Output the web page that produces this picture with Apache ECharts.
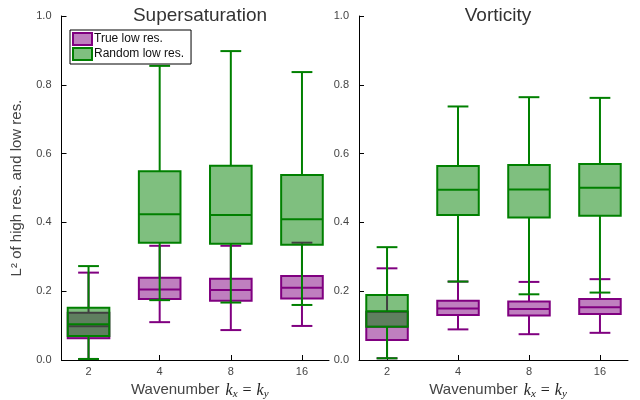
<!DOCTYPE html>
<html>
<head>
<meta charset="utf-8">
<script src="https://cdn.jsdelivr.net/npm/echarts@6/dist/echarts.min.js"></script>
<style>html,body{margin:0;padding:0;background:#fff}#c{width:640px;height:400px}</style>
</head>
<body>
<div id="c"></div>
<script>
// tick labels / categories
var categories = ['2', '4', '8', '16'];
var yTicks = [0, 0.2, 0.4, 0.6, 0.8, 1.0];
// each entry: [min, Q1, median, Q3, max]
var superTrue = [
  [0.003, 0.063, 0.098, 0.1375, 0.254],
  [0.110, 0.177, 0.205, 0.239, 0.332],
  [0.087, 0.172, 0.2035, 0.236, 0.332],
  [0.099, 0.179, 0.210, 0.244, 0.341]
];
var superRandom = [
  [0.003, 0.070, 0.104, 0.152, 0.273],
  [0.174, 0.341, 0.424, 0.549, 0.855],
  [0.167, 0.338, 0.4215, 0.565, 0.898],
  [0.160, 0.335, 0.409, 0.538, 0.837]
];
var vortTrue = [
  [0.005, 0.058, 0.097, 0.140, 0.2665],
  [0.089, 0.131, 0.150, 0.172, 0.228],
  [0.075, 0.129, 0.148, 0.170, 0.227],
  [0.079, 0.134, 0.153, 0.177, 0.235]
];
var vortRandom = [
  [0.005, 0.097, 0.142, 0.189, 0.328],
  [0.228, 0.4215, 0.495, 0.564, 0.737],
  [0.191, 0.414, 0.496, 0.567, 0.764],
  [0.196, 0.419, 0.501, 0.570, 0.762]
];

var PURPLE = '#800080', PURPLE_FILL = 'rgba(128,0,128,0.5)';
var GREEN = '#008000', GREEN_FILL = 'rgba(0,128,0,0.5)';
var FONT = 'Liberation Sans';

function toData(arr) {
  return arr.map(function (d, i) { return [i].concat(d); });
}

function makeRender(stroke, fill) {
  return function (params, api) {
    var x = api.value(0);
    var pMin = api.coord([x, api.value(1)]);
    var pQ1 = api.coord([x, api.value(2)]);
    var pMed = api.coord([x, api.value(3)]);
    var pQ3 = api.coord([x, api.value(4)]);
    var pMax = api.coord([x, api.value(5)]);
    var w = api.size([0.585, 0])[0];
    var cx = pMed[0];
    var hw = w / 2, cw = w / 4;
    var ls = { stroke: stroke, lineWidth: 2 };
    return {
      type: 'group',
      children: [
        { type: 'line', shape: { x1: cx, y1: pQ3[1], x2: cx, y2: pMax[1] }, style: ls },
        { type: 'line', shape: { x1: cx, y1: pQ1[1], x2: cx, y2: pMin[1] }, style: ls },
        { type: 'line', shape: { x1: cx - cw, y1: pMax[1], x2: cx + cw, y2: pMax[1] }, style: ls },
        { type: 'line', shape: { x1: cx - cw, y1: pMin[1], x2: cx + cw, y2: pMin[1] }, style: ls },
        { type: 'rect', shape: { x: cx - hw, y: pQ3[1], width: w, height: pQ1[1] - pQ3[1] },
          style: { fill: fill, stroke: stroke, lineWidth: 2 } },
        { type: 'line', shape: { x1: cx - hw, y1: pMed[1], x2: cx + hw, y2: pMed[1] }, style: ls }
      ]
    };
  };
}

function series(name, arr, stroke, fill, idx) {
  return {
    type: 'custom', name: name, xAxisIndex: idx, yAxisIndex: idx,
    data: toData(arr),
    encode: { x: 0, y: [1, 2, 3, 4, 5] },
    itemStyle: { color: fill, borderColor: stroke, borderWidth: 2 },
    renderItem: makeRender(stroke, fill),
    clip: false
  };
}

var xName = '{n|Wavenumber}{m|k}{s|x}{e|=}{m|k}{s|y}';
var xNameRich = {
  n: { fontFamily: FONT, fontSize: 15, color: '#444', padding: [0, 6, 0, 0] },
  m: { fontFamily: 'Liberation Serif', fontStyle: 'italic', fontSize: 16, color: '#222', padding: [3, 0, 0, 0] },
  e: { fontFamily: 'Liberation Serif', fontSize: 16, color: '#222', padding: [3, 5, 0, 5] },
  s: { fontFamily: 'Liberation Serif', fontStyle: 'italic', fontSize: 11, color: '#222', verticalAlign: 'bottom', padding: [9, 0, 0, 0] }
};

function xAxis(idx, min, max) {
  return {
    type: 'value', gridIndex: idx, min: min, max: max,
    axisLine: { show: true, onZero: false, lineStyle: { color: '#000', width: 1 } },
    axisTick: { show: true, inside: true, length: 5, customValues: [0, 1, 2, 3], lineStyle: { color: '#000' } },
    axisLabel: { customValues: [0, 1, 2, 3], formatter: function (v) { return categories[Math.round(v)]; },
      fontFamily: FONT, fontSize: 11, color: '#444', margin: 6 },
    splitLine: { show: false },
    name: xName, nameLocation: 'middle', nameGap: 7,
    nameTextStyle: { rich: xNameRich, padding: [0, 0, 0, 9] }
  };
}

function yAxis(idx, withName) {
  var a = {
    type: 'value', gridIndex: idx, min: 0, max: 1, interval: 0.2,
    axisLine: { show: true, onZero: false, lineStyle: { color: '#000', width: 1 } },
    axisTick: { show: true, inside: true, length: 5, lineStyle: { color: '#000' } },
    axisLabel: { formatter: function (v) { return v.toFixed(1); }, fontFamily: FONT, fontSize: 11, color: '#444', margin: 10 },
    splitLine: { show: false }
  };
  if (withName) {
    a.name = 'L² of high res. and low res.';
    a.nameLocation = 'middle';
    a.nameGap = 37;
    a.nameTextStyle = { fontFamily: FONT, fontSize: 15, color: '#444' };
  }
  return a;
}

var chart = echarts.init(document.getElementById('c'), null, { renderer: 'canvas' });
chart.setOption({
  backgroundColor: '#fff',
  animation: false,
  title: [
    { text: 'Supersaturation', left: 195, top: 1, textAlign: 'center',
      textStyle: { fontFamily: FONT, fontSize: 19, fontWeight: 'normal', color: '#333' } },
    { text: 'Vorticity', left: 493, top: 1, textAlign: 'center',
      textStyle: { fontFamily: FONT, fontSize: 19, fontWeight: 'normal', color: '#333' } }
  ],
  legend: {
    left: 70, top: 30, orient: 'vertical',
    backgroundColor: '#fff', borderColor: '#000', borderWidth: 1, borderRadius: 0,
    padding: [2, 7, 3, 2], itemGap: 1, itemWidth: 19, itemHeight: 12,
    textStyle: { fontFamily: FONT, fontSize: 12, color: '#111', padding: [0, 0, 0, -3] },
    data: [
      { name: 'True low res.', icon: 'rect', itemStyle: { color: PURPLE_FILL, borderColor: PURPLE, borderWidth: 2 } },
      { name: 'Random low res.', icon: 'rect', itemStyle: { color: GREEN_FILL, borderColor: GREEN, borderWidth: 2 } }
    ]
  },
  grid: [
    { left: 61.5, top: 16, width: 267.5, height: 344, outerBoundsMode: 'none', containLabel: false },
    { left: 359, top: 16, width: 269, height: 344, outerBoundsMode: 'none', containLabel: false }
  ],
  xAxis: [xAxis(0, -0.38, 3.38), xAxis(1, -0.395, 3.395)],
  yAxis: [yAxis(0, true), yAxis(1, false)],
  series: [
    series('True low res.', superTrue, PURPLE, PURPLE_FILL, 0),
    series('Random low res.', superRandom, GREEN, GREEN_FILL, 0),
    series('True low res.', vortTrue, PURPLE, PURPLE_FILL, 1),
    series('Random low res.', vortRandom, GREEN, GREEN_FILL, 1)
  ]
});
</script>
</body>
</html>
